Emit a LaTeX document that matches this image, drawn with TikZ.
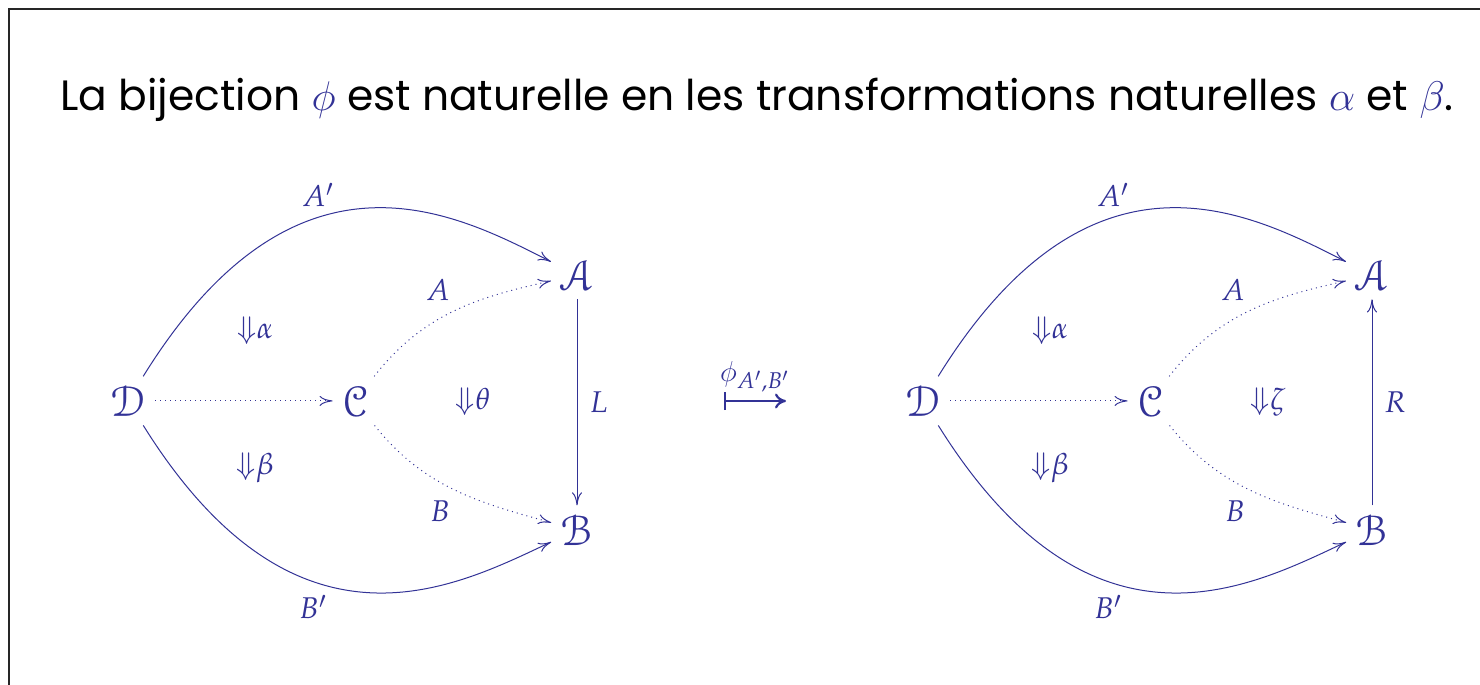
\documentclass[tikz,border=0pt]{standalone}
\usepackage{mathpazo}
\usepackage{fontspec}
\setmainfont{Poppins}
\usepackage[mathcal]{eucal}
\DeclareSymbolFont{cmletters}{OML}{cmm}{m}{it}
\DeclareMathSymbol{\cmphi}{\mathord}{cmletters}{"1E}
\DeclareMathSymbol{\cmalpha}{\mathord}{cmletters}{"0B}
\DeclareMathSymbol{\cmbeta}{\mathord}{cmletters}{"0C}
\usetikzlibrary{arrows.meta}
\definecolor{cdblue}{RGB}{50,50,150}
\begin{document}
\begin{tikzpicture}[x=0.5pt,y=-0.5pt,
  obj/.style={text=cdblue, font=\fontsize{10}{12}\selectfont, scale=2.15, inner sep=2pt, anchor=base},
  lab/.style={text=cdblue, font=\fontsize{15}{18}\selectfont, inner sep=0pt},
  arr/.style={draw=cdblue, line width=0.5pt, -{To[length=6.5pt,width=5pt]}},
  dots/.style={arr, dotted},
  frame/.style={draw=black!85, line width=1pt},
]
\useasboundingbox (0,0) rectangle (1480,685);
\draw[frame] (9,685) -- (9,9) -- (1480,9);

\node[anchor=base, font=\fontsize{21.2}{26}\selectfont] (title) at (757,110)
  {La bijection {\color{cdblue}$\cmphi$} est naturelle en les transformations naturelles {\color{cdblue}$\cmalpha$} et {\color{cdblue}$\cmbeta$}.};

% left diagram
\node[obj] (D) at (128,416) {$\mathcal{D}$};
\node[obj] (C) at (355,416) {$\mathcal{C}$};
\node[obj] (A) at (577,290) {$\mathcal{A}$};
\node[obj] (B) at (577,545) {$\mathcal{B}$};
\draw[arr] (D) .. controls (297,128) and (457,214) .. (A);
\draw[arr] (D) .. controls (297,672) and (457,586) .. (B);
\draw[dots] (D) -- (C);
\draw[dots] (C) .. controls (426,310) and (485,296) .. (A);
\draw[dots] (C) .. controls (426,490) and (485,504) .. (B);
\draw[arr] (A) -- (B) node[lab, midway, right=6pt] (L) {$L$};
\node[lab] (lAp) at (318,195) {$A'$};
\node[lab] (lBp) at (313,607) {$B'$};
\node[lab] (lA) at (438,290) {$A$};
\node[lab] (lB) at (440,511) {$B$};
\node[lab] (al) at (255,331) {${\Downarrow}\alpha$};
\node[lab] (be) at (255,468) {${\Downarrow}\beta$};
\node[lab] (th) at (473,402) {${\Downarrow}\theta$};

% middle
\coordinate (m1) at (724,401);
\coordinate (m2) at (786,401);
\draw[cdblue, line width=1.1pt, {Bar[width=9pt]}-{To[length=5.5pt,width=7.5pt]}] (m1) -- (m2)
  node[lab, midway, above=4pt] (phi) {$\cmphi_{A',B'}$};

% right diagram
\begin{scope}[xshift=397.5pt]
\node[obj] (D2) at (128,416) {$\mathcal{D}$};
\node[obj] (C2) at (355,416) {$\mathcal{C}$};
\node[obj] (A2) at (577,290) {$\mathcal{A}$};
\node[obj] (B2) at (577,545) {$\mathcal{B}$};
\draw[arr] (D2) .. controls (297,128) and (457,214) .. (A2);
\draw[arr] (D2) .. controls (297,672) and (457,586) .. (B2);
\draw[dots] (D2) -- (C2);
\draw[dots] (C2) .. controls (426,310) and (485,296) .. (A2);
\draw[dots] (C2) .. controls (426,490) and (485,504) .. (B2);
\draw[arr] (B2) -- (A2) node[lab, midway, right=6pt] (R) {$R$};
\node[lab] (lAp2) at (318,195) {$A'$};
\node[lab] (lBp2) at (313,607) {$B'$};
\node[lab] (lA2) at (438,290) {$A$};
\node[lab] (lB2) at (440,511) {$B$};
\node[lab] (al2) at (255,331) {${\Downarrow}\alpha$};
\node[lab] (be2) at (255,468) {${\Downarrow}\beta$};
\node[lab] (ze) at (473,402) {${\Downarrow}\zeta$};
\end{scope}
\end{tikzpicture}
\end{document}
